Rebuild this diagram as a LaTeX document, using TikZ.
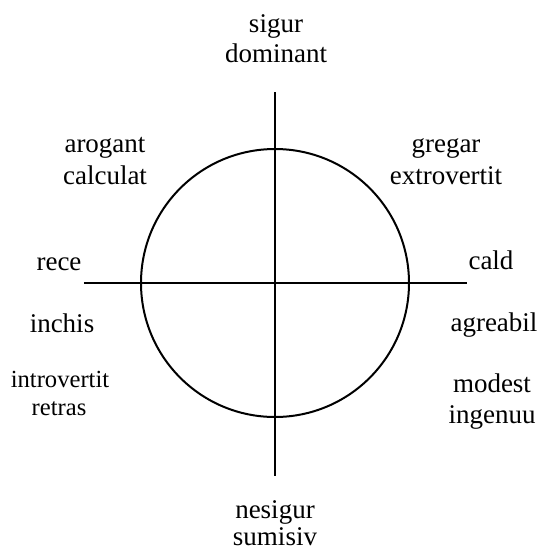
\documentclass[tikz,border=0pt]{standalone}
\usepackage{fontspec}
\setmainfont{Liberation Serif}
\begin{document}
\begin{tikzpicture}[x=0.5pt,y=-0.5pt,line width=1pt,
  lbl/.style={font=\fontsize{13.5}{16}\selectfont,inner sep=0pt,anchor=base},
  lblsmall/.style={font=\fontsize{12.3}{14}\selectfont,inner sep=0pt,anchor=base}]
  \useasboundingbox (0,0) rectangle (539,548);
  % axes and circle
  \coordinate (O) at (275,283);
  \coordinate (top) at (275,92);
  \coordinate (bottom) at (275,476);
  \coordinate (left) at (84,283);
  \coordinate (right) at (467,283);
  \draw (top) -- (bottom);
  \draw (left) -- (right);
  \draw (O) circle[radius=67pt];
  % labels, one node per printed line
  \node[lbl] (sigur) at (276,32) {sigur};
  \node[lbl] (dominant) at (276,62) {dominant};
  \node[lbl] (arogant) at (105,152) {arogant};
  \node[lbl] (calculat) at (105,184) {calculat};
  \node[lbl] (gregar) at (446,152) {gregar};
  \node[lbl] (extrovertit) at (446,184) {extrovertit};
  \node[lbl] (rece) at (59,270) {rece};
  \node[lbl] (cald) at (491,269) {cald};
  \node[lbl] (inchis) at (62,332) {inchis};
  \node[lbl] (agreabil) at (494,331) {agreabil};
  \node[lblsmall] (introvertit) at (60,387) {introvertit};
  \node[lblsmall] (retras) at (59,415) {retras};
  \node[lbl] (modest) at (492,392) {modest};
  \node[lbl] (ingenuu) at (492,423) {ingenuu};
  \node[lbl] (nesigur) at (275,518) {nesigur};
  \node[lbl] (sumisiv) at (275,545) {sumisiv};
\end{tikzpicture}
\end{document}
